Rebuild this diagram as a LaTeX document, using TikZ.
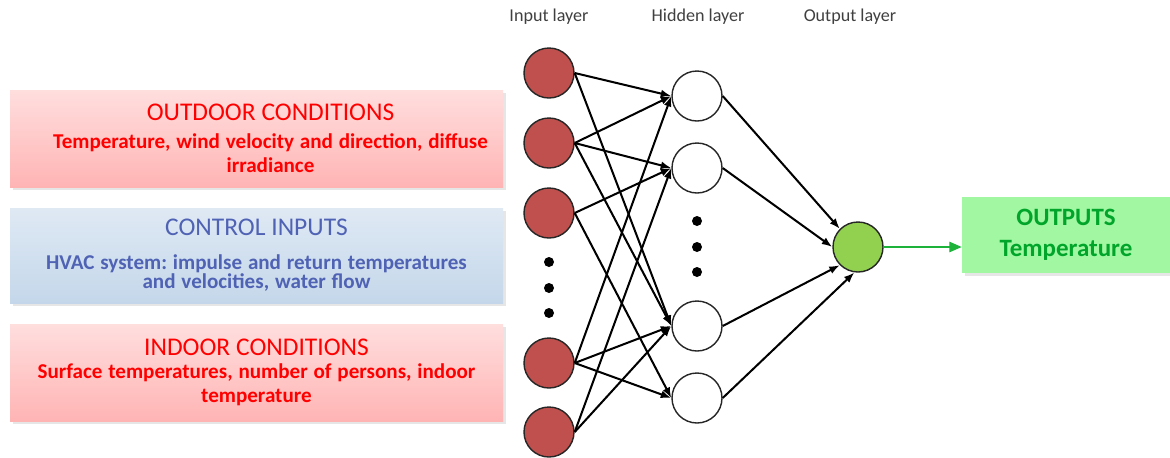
\documentclass[tikz,border=0pt]{standalone}
\usepackage{fontspec}
\setmainfont{Carlito}
\usetikzlibrary{arrows.meta,shadows}
\definecolor{inred}{HTML}{C0504D}
\definecolor{outgreen}{HTML}{92D050}
\definecolor{pinktop}{HTML}{FFDEDE}
\definecolor{pinkbottom}{HTML}{FFB4B4}
\definecolor{bluetop}{HTML}{DFE9F4}
\definecolor{bluebottom}{HTML}{C4D7EA}
\definecolor{ctrlblue}{HTML}{4F62B4}
\definecolor{resultfill}{HTML}{A2F7A2}
\definecolor{resulttext}{HTML}{00A52A}
\definecolor{flowgreen}{HTML}{1DB33B}

\tikzset{
  neuron/.style={circle, draw=black!85, line width=0.8pt, minimum size=1cm, inner sep=0pt},
  infobox/.style={rectangle, minimum width=9.86cm, minimum height=1.94cm, align=center, text width=9.6cm,
    drop shadow={shadow xshift=1.5pt, shadow yshift=-1.5pt, opacity=0.2}},
  weight/.style={-{Latex[length=6pt,width=4.5pt]}, line width=1.15pt},
  vdot/.style={circle, fill=black, inner sep=0pt, minimum size=0.2cm},
  layername/.style={font=\fontsize{10.3}{12}\selectfont, text=black!75},
}
\newcommand{\headfont}{\fontsize{14.5}{17}\selectfont}
\newcommand{\bodyfont}{\bfseries\fontsize{12}{14}\selectfont}
\frenchspacing

\begin{document}
\begin{tikzpicture}
    \useasboundingbox (0,0) rectangle (23.4,-9.14);

    % layer names
    \node[layername] (lin) at (10.98,-0.34) {Input layer};
    \node[layername] (lhid) at (13.96,-0.34) {Hidden layer};
    \node[layername] (lout) at (17.0,-0.34) {Output layer};

    % input boxes
    \node[infobox, top color=pinktop, bottom color=pinkbottom, text=red] (outdoor) at (5.13,-2.77)
        {{\headfont\hspace*{0.56cm}OUTDOOR CONDITIONS}\\[1.5pt]
         \bodyfont\hspace*{0.56cm}Temperature, wind velocity and direction, diffuse\\ \hspace*{0.56cm}irradiance\\[4pt]};
    \node[infobox, minimum height=1.9cm, top color=bluetop, bottom color=bluebottom, text=ctrlblue] (control) at (5.13,-5.11)
        {{\headfont CONTROL INPUTS}\\[5pt]
         \bodyfont HVAC system: impulse and return temperatures\\[-1pt] and velocities, water flow};
    \node[infobox, top color=pinktop, bottom color=pinkbottom, text=red] (indoor) at (5.13,-7.45)
        {{\headfont INDOOR CONDITIONS}\\[-1pt]
         \bodyfont Surface temperatures, number of persons, indoor\\[2pt] temperature};

    % input layer
    \node[neuron, fill=inred] (in1) at (10.98,-1.46) {};
    \node[neuron, fill=inred] (in2) at (10.98,-2.86) {};
    \node[neuron, fill=inred] (in3) at (10.98,-4.26) {};
    \node[neuron, fill=inred] (in4) at (10.98,-7.26) {};
    \node[neuron, fill=inred] (in5) at (10.98,-8.64) {};
    \node[vdot] (ind1) at (10.98,-5.24) {};
    \node[vdot] (ind2) at (10.98,-5.76) {};
    \node[vdot] (ind3) at (10.98,-6.26) {};

    % hidden layer
    \node[neuron, fill=white] (h1) at (13.94,-1.92) {};
    \node[neuron, fill=white] (h2) at (13.94,-3.36) {};
    \node[neuron, fill=white] (h3) at (13.94,-6.52) {};
    \node[neuron, fill=white] (h4) at (13.94,-7.96) {};
    \node[vdot] (hd1) at (13.94,-4.42) {};
    \node[vdot] (hd2) at (13.94,-4.94) {};
    \node[vdot] (hd3) at (13.94,-5.44) {};

    % output layer
    \node[neuron, fill=outgreen] (o1) at (17.16,-4.94) {};
    \node[rectangle, fill=resultfill, text=resulttext, minimum width=4.16cm, minimum height=1.52cm, align=center,
        font=\bfseries\fontsize{14.2}{17.5}\selectfont,
        drop shadow={shadow xshift=1.5pt, shadow yshift=-1.5pt, opacity=0.2}] (outbox) at (21.32,-4.70)
        {OUTPUTS\\Temperature};

    % input to hidden
    \draw[weight] (in1.east) -- (h1.west);
    \draw[weight] (in1.east) -- (h3.west);
    \draw[weight] (in2.east) -- (h1.west);
    \draw[weight] (in2.east) -- (h2.west);
    \draw[weight] (in2.east) -- (h3.west);
    \draw[weight] (in3.east) -- (h2.west);
    \draw[weight] (in3.east) -- (h4.west);
    \draw[weight] (in4.east) -- (h1.west);
    \draw[weight] (in4.east) -- (h3.west);
    \draw[weight] (in4.east) -- (h4.west);
    \draw[weight] (in5.east) -- (h2.west);
    \draw[weight] (in5.east) -- (h3.west);

    % hidden to output
    \draw[weight] (h1.east) -- (o1.135);
    \draw[weight] (h2.east) -- (o1.180);
    \draw[weight] (h3.east) -- (o1.225);
    \draw[weight] (h4.east) -- (o1.262);

    \draw[-{Triangle[length=7pt,width=6pt]}, flowgreen, line width=0.6pt] (o1) -- (o1 -| outbox.west);

\end{tikzpicture}
\end{document}
